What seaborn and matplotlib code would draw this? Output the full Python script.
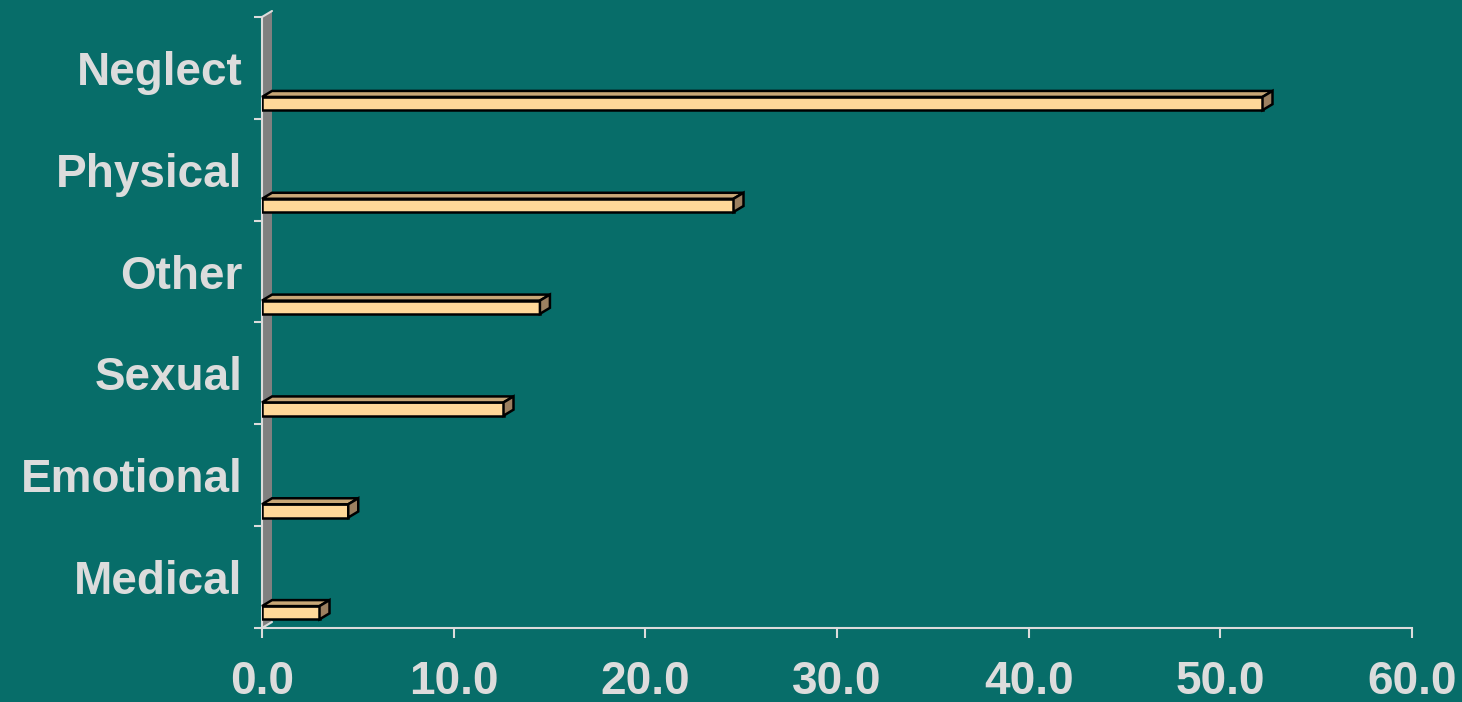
import numpy as np
import pandas as pd
import matplotlib
matplotlib.use('Agg')
import matplotlib.pyplot as plt
import seaborn as sns
from matplotlib.patches import Polygon

# ==========================================
# DATA
# ==========================================
categories = ['Neglect', 'Physical', 'Other', 'Sexual', 'Emotional', 'Medical']
percent = [52.2, 24.6, 14.5, 12.6, 4.5, 3.0]
x_ticks = [0, 10, 20, 30, 40, 50, 60]

bg = '#076D69'
txt = '#DCDCDC'
front = '#FFD899'
top_col = '#C8A777'
side_col = '#9C8060'
wall_col = '#808080'

sns.set_theme(style='white')
plt.rcParams['font.family'] = ['Liberation Sans', 'DejaVu Sans']
plt.rcParams['font.weight'] = 'bold'

df = pd.DataFrame({'type': categories, 'pct': percent})

fig = plt.figure(figsize=(14.62, 7.02), dpi=100, facecolor=bg)
ax = fig.add_axes([262 / 1462, 1 - 628 / 702, 1150 / 1462, 611 / 702])
ax.set_facecolor(bg)

sns.barplot(data=df, x='pct', y='type', order=categories, width=0.13,
            color=front, saturation=1, edgecolor='black', linewidth=1.8,
            ax=ax, zorder=3)

n = len(categories)
ytop, ybot = -0.85, n - 0.85
ax.set_xlim(0, 60)
ax.set_ylim(ybot, ytop)

# 3D depth in data units (10 px right, 6 px up)
dx = 10 / (1150 / 60)
dy = 6 / (611 / (ybot - ytop))

bars = list(ax.patches)

# grey side wall
ax.add_patch(Polygon([(0, ytop), (dx, ytop - dy), (dx, ybot - dy), (0, ybot)],
                     closed=True, facecolor=wall_col, edgecolor='none',
                     zorder=1, clip_on=False))
ax.plot([0, dx], [ytop, ytop - dy], color=txt, lw=1.5, clip_on=False, zorder=2)
ax.plot([0, dx], [ybot, ybot - dy], color=txt, lw=1.5, clip_on=False, zorder=2)

# top and side faces of each bar
for p in bars:
    x0, y0, w, h = p.get_x(), p.get_y(), p.get_width(), p.get_height()
    ax.add_patch(Polygon([(x0, y0), (x0 + w, y0), (x0 + w + dx, y0 - dy), (x0 + dx, y0 - dy)],
                         closed=True, facecolor=top_col, edgecolor='black',
                         lw=1.8, zorder=3, clip_on=False))
    ax.add_patch(Polygon([(x0 + w, y0), (x0 + w, y0 + h), (x0 + w + dx, y0 + h - dy), (x0 + w + dx, y0 - dy)],
                         closed=True, facecolor=side_col, edgecolor='black',
                         lw=1.8, zorder=3, clip_on=False))

# axes styling
for s in ['top', 'right']:
    ax.spines[s].set_visible(False)
for s in ['left', 'bottom']:
    ax.spines[s].set_color(txt)
    ax.spines[s].set_linewidth(1.5)
    ax.spines[s].set_zorder(2)

ax.set_xticks(x_ticks)
ax.set_xticklabels([f'{v:.1f}' for v in x_ticks])
ax.tick_params(axis='x', direction='out', length=7, width=1.5, color=txt,
               labelcolor=txt, labelsize=33, pad=16, bottom=True)

ax.set_yticks([i - 0.35 for i in range(n)])
ax.set_yticklabels(categories)
ax.tick_params(axis='y', which='major', length=0, labelcolor=txt, labelsize=33, pad=14)
ax.set_yticks([ytop + i for i in range(n + 1)], minor=True)
ax.tick_params(axis='y', which='minor', direction='out', length=6, width=1.5,
               color=txt, left=True)

ax.set_xlabel('')
ax.set_ylabel('')

fig.savefig('out.png', dpi=100, facecolor=bg)
